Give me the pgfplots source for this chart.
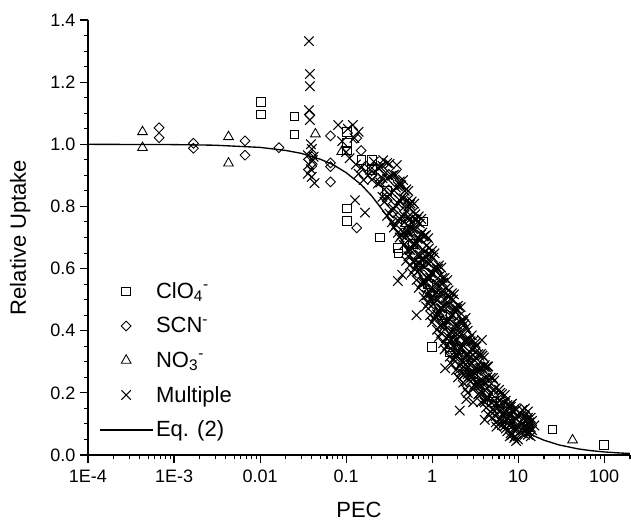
\documentclass[border=0pt]{standalone}
\usepackage{fontspec}
\setmainfont{Liberation Sans}
\usepackage{pgfplots}
\pgfplotsset{compat=1.18}
\newcommand{\ionlab}[2]{#1\textsubscript{#2}\textsuperscript{-}}
\begin{document}
\begin{tikzpicture}
\begin{axis}[
  scale only axis, width=406.5pt, height=326.25pt,
  xmode=log, xmin=1e-4, xmax=200, ymin=0, ymax=1.4,
  axis lines=left, axis line style={-, line width=0.9pt, black},
  tick align=outside, major tick length=6pt, minor tick length=3.3pt,
  every tick/.style={line width=0.8pt, black},
  xtick={1e-4,1e-3,0.01,0.1,1,10,100},
  xticklabels={1E-4,1E-3,0.01,0.1,1,10,100},
  minor xtick={2e-4,3e-4,4e-4,5e-4,6e-4,7e-4,8e-4,9e-4,
    2e-3,3e-3,4e-3,5e-3,6e-3,7e-3,8e-3,9e-3,
    0.02,0.03,0.04,0.05,0.06,0.07,0.08,0.09,
    0.2,0.3,0.4,0.5,0.6,0.7,0.8,0.9,
    2,3,4,5,6,7,8,9,20,30,40,50,60,70,80,90,200},
  ytick={0,0.2,0.4,0.6,0.8,1.0,1.2,1.4},
  yticklabels={0.0,0.2,0.4,0.6,0.8,1.0,1.2,1.4},
  minor y tick num=3,
  ticklabel style={font=\fontsize{13.5}{15}\selectfont},
  yticklabel shift=0pt, xticklabel shift=2pt,
  label style={font=\fontsize{16.5}{19}\selectfont},
  xlabel={PEC}, ylabel={Relative Uptake},
  ylabel style={yshift=8pt}, xlabel style={yshift=-7.5pt},
  legend cell align=left,
  legend style={draw=none, fill=none, at={(rel axis cs:0,0.024)}, anchor=south west, xshift=5pt,
    font=\fontsize{16.5}{19}\selectfont, row sep=8.75pt},
  legend image code/.code={\draw[mark repeat=2,mark phase=2,#1] plot coordinates {(0cm,0cm) (0.7cm,0cm) (1.4cm,0cm)};},
  after end axis/.code={\coordinate (LL) at (rel axis cs:0,0); \coordinate (UR) at (rel axis cs:1,1);},
]
% ClO4-
\addplot[only marks, mark=square, mark size=3.2pt, line width=0.65pt, black] coordinates {
(0.0102,1.137)(0.0102,1.096)(0.025,1.089)(0.025,1.032)(0.102,1.04)(0.102,1.004)(0.102,0.98)
(0.102,0.794)(0.102,0.754)(0.20,0.949)(0.20,0.917)(0.249,0.70)(0.40,0.666)(0.406,0.649)
(0.79,0.751)(1.0,0.347)(1.62,0.347)(1.62,0.33)(25,0.083)(100,0.033)
(0.5,0.75)(0.6,0.68)(0.7,0.62)(0.9,0.55)(1.3,0.45)(2,0.34)(3,0.26)(5,0.17)(8,0.10)(13,0.09)
(0.3,0.85)(0.15,0.95)};
\addlegendentry{\ionlab{ClO}{4}}
% SCN-
\addplot[only marks, mark=square, mark size=2.6pt, mark options={rotate=45}, line width=0.65pt, black] coordinates {
(6.7e-4,1.053)(6.7e-4,1.021)(1.68e-3,1.003)(1.68e-3,0.987)(6.7e-3,1.011)(6.7e-3,0.965)
(0.0166,0.989)(0.038,1.094)(0.066,1.027)(0.066,0.928)(0.066,0.879)(0.066,0.94)(0.133,1.02)
(0.133,0.731)(0.04,0.93)(0.04,0.96)(0.15,0.98)(0.17,0.93)(0.2,0.90)(0.25,0.88)(0.3,0.82)
(0.35,0.78)(0.55,0.68)(0.8,0.58)(1.2,0.45)(2.1,0.26)(2.3,0.24)(2.5,0.29)(3.5,0.23)(7,0.12)};
\addlegendentry{SCN\textsuperscript{-}}
% NO3-
\addplot[only marks, mark=triangle, mark size=4.2pt, line width=0.65pt, black] coordinates {
(4.3e-4,1.040)(4.3e-4,0.989)(4.3e-3,1.024)(4.3e-3,0.939)(0.044,1.033)(0.089,0.976)
(0.5,0.72)(0.87,0.52)(1.0,0.52)(43,0.048)};
\addlegendentry{\ionlab{NO}{3}}
% Multiple
\addplot[only marks, mark=x, mark size=5pt, line width=0.8pt, black] coordinates {
(0.037,1.332)(0.038,1.226)(0.038,1.187)(0.037,1.110)(0.038,1.078)(0.039,1.00)(0.040,0.985)
(0.036,0.965)(0.041,0.95)(0.037,0.935)(0.039,0.92)(0.036,0.905)(0.040,0.895)(0.043,0.875)(0.042,0.96)
(0.081,1.062)(0.12,1.062)(0.09,1.01)(0.1,0.975)(0.11,0.955)(0.13,0.935)(0.14,0.905)(0.15,0.925)
(0.16,0.885)(0.125,1.02)(0.14,1.04)(0.105,1.05)(0.166,0.78)(0.127,0.82)(0.39,0.933)(0.42,0.88)
(0.27,0.949)(0.46,0.885)(0.40,0.56)(0.45,0.58)(0.66,0.45)
(1.42,0.279)(2.1,0.143)(4.1,0.113)(3.8,0.37)(2.5,0.18)(2.6,0.20)(3.0,0.17)(5.6,0.091)(5.0,0.12)(5.5,0.105)
(0.18,0.90)(0.19,0.918)(0.2,0.886)(0.21,0.944)(0.22,0.912)(0.235,0.874)(0.235,0.924)
(0.25,0.877)(0.25,0.927)(0.265,0.831)(0.265,0.891)(0.265,0.931)(0.28,0.815)(0.28,0.855)(0.28,0.905)
(0.3,0.77)(0.3,0.83)(0.3,0.89)(0.3,0.94)(0.32,0.777)(0.32,0.837)(0.32,0.897)(0.32,0.937)
(0.34,0.749)(0.34,0.789)(0.34,0.844)(0.34,0.899)(0.36,0.732)(0.36,0.792)(0.36,0.852)(0.36,0.902)
(0.38,0.741)(0.38,0.801)(0.38,0.861)(0.38,0.901)(0.40,0.715)(0.40,0.755)(0.40,0.81)(0.40,0.865)
(0.42,0.70)(0.42,0.76)(0.42,0.82)(0.42,0.87)(0.44,0.708)(0.44,0.768)(0.44,0.828)(0.44,0.868)
(0.47,0.676)(0.47,0.716)(0.47,0.771)(0.47,0.826)
(0.50,0.625)(0.50,0.705)(0.50,0.785)(0.50,0.855)(0.53,0.64)(0.53,0.72)(0.53,0.80)(0.53,0.85)
(0.55,0.61)(0.55,0.66)(0.55,0.73)(0.55,0.805)(0.58,0.586)(0.58,0.666)(0.58,0.746)(0.58,0.816)
(0.62,0.599)(0.62,0.679)(0.62,0.759)(0.62,0.809)(0.66,0.563)(0.66,0.613)(0.66,0.683)(0.66,0.758)
(0.70,0.538)(0.70,0.618)(0.70,0.698)(0.70,0.768)(0.75,0.55)(0.75,0.63)(0.75,0.71)(0.75,0.76)
(0.80,0.508)(0.80,0.558)(0.80,0.628)(0.80,0.703)(0.85,0.478)(0.85,0.558)(0.85,0.638)(0.85,0.708)
(0.90,0.488)(0.90,0.568)(0.90,0.648)(0.90,0.698)(0.95,0.45)(0.95,0.50)(0.95,0.57)(0.95,0.645)
(1.0,0.427)(1.0,0.507)(1.0,0.587)(1.0,0.657)(1.07,0.439)(1.07,0.519)(1.07,0.599)(1.07,0.649)
(1.14,0.403)(1.14,0.453)(1.14,0.523)(1.14,0.598)(1.2,0.38)(1.2,0.46)(1.2,0.54)(1.2,0.61)
(1.28,0.393)(1.28,0.473)(1.28,0.553)(1.28,0.603)(1.35,0.36)(1.35,0.41)(1.35,0.48)(1.35,0.555)
(1.4,0.34)(1.4,0.42)(1.4,0.50)(1.4,0.57)(1.5,0.353)(1.5,0.433)(1.5,0.513)(1.5,0.563)
(1.6,0.316)(1.6,0.366)(1.6,0.436)(1.6,0.511)(1.7,0.291)(1.7,0.371)(1.7,0.451)(1.7,0.521)
(1.8,0.307)(1.8,0.387)(1.8,0.467)(1.8,0.517)(1.9,0.273)(1.9,0.323)(1.9,0.393)(1.9,0.468)
(2.0,0.25)(2.0,0.33)(2.0,0.41)(2.0,0.48)(2.15,0.266)(2.15,0.346)(2.15,0.426)(2.15,0.476)
(2.3,0.233)(2.3,0.283)(2.3,0.353)(2.3,0.428)(2.45,0.211)(2.45,0.291)(2.45,0.371)(2.45,0.441)
(2.6,0.26)(2.6,0.32)(2.6,0.37)(2.6,0.40)(2.8,0.236)(2.8,0.266)(2.8,0.316)(2.8,0.366)
(3.0,0.212)(3.0,0.267)(3.0,0.322)(3.0,0.367)(3.2,0.22)(3.2,0.28)(3.2,0.33)(3.2,0.36)
(3.45,0.195)(3.45,0.225)(3.45,0.275)(3.45,0.325)(3.7,0.17)(3.7,0.225)(3.7,0.28)(3.7,0.325)
(4.0,0.174)(4.0,0.234)(4.0,0.284)(4.0,0.314)(4.25,0.152)(4.25,0.182)(4.25,0.232)(4.25,0.282)
(4.5,0.13)(4.5,0.185)(4.5,0.24)(4.5,0.285)
(4.8,0.139)(4.8,0.199)(4.8,0.249)(5.1,0.148)(5.1,0.208)(5.1,0.248)(5.5,0.125)(5.5,0.165)(5.5,0.215)
(6.0,0.10)(6.0,0.16)(6.0,0.21)
(6.5,0.096)(6.5,0.131)(6.5,0.166)(6.5,0.196)(7.0,0.093)(7.0,0.133)(7.0,0.168)(7.0,0.193)
(7.5,0.076)(7.5,0.101)(7.5,0.131)(7.5,0.161)(8.0,0.06)(8.0,0.095)(8.0,0.13)(8.0,0.16)
(8.5,0.065)(8.5,0.105)(8.5,0.14)(8.5,0.165)(9.0,0.055)(9.0,0.08)(9.0,0.11)(9.0,0.14)
(9.5,0.045)(9.5,0.08)(9.5,0.115)(9.5,0.145)(10,0.05)(10,0.09)(10,0.125)
(11,0.07)(11,0.10)(11,0.13)(11.5,0.085)(11.5,0.115)(12,0.065)(12,0.095)(12,0.125)(12,0.15)
(12.5,0.08)(12.5,0.11)(13,0.065)(13,0.09)(13,0.12)(13,0.14)(13.5,0.075)(13.5,0.105)
(14,0.06)(14,0.09)(14,0.12)(14.5,0.08)(14.5,0.11)(15.5,0.095)(11.2,0.145)
(0.52,0.66)(0.52,0.715)(0.52,0.765)(0.52,0.82)(0.6,0.622)(0.6,0.677)(0.6,0.727)(0.6,0.782)
(0.68,0.59)(0.68,0.645)(0.68,0.695)(0.68,0.75)(0.77,0.556)(0.77,0.611)(0.77,0.661)(0.77,0.716)
(0.87,0.515)(0.87,0.57)(0.87,0.62)(0.87,0.675)(0.97,0.48)(0.97,0.535)(0.97,0.585)(0.97,0.64)
(1.1,0.447)(1.1,0.502)(1.1,0.552)(1.1,0.607)(1.24,0.417)(1.24,0.472)(1.24,0.522)(1.24,0.577)
(1.45,0.377)(1.45,0.432)(1.45,0.482)(1.45,0.537)(1.65,0.343)(1.65,0.398)(1.65,0.448)(1.65,0.503)
(1.85,0.315)(1.85,0.37)(1.85,0.42)(1.85,0.475)(2.07,0.288)(2.07,0.343)(2.07,0.393)(2.07,0.448)
(2.38,0.261)(2.38,0.316)(2.38,0.366)(2.38,0.421)(2.7,0.253)(2.7,0.293)(2.7,0.333)(2.7,0.373)
(3.1,0.226)(3.1,0.266)(3.1,0.306)(3.1,0.346)(3.55,0.199)(3.55,0.239)(3.55,0.279)(3.55,0.319)
(4.1,0.169)(4.1,0.209)(4.1,0.249)(4.1,0.289)
(0.48,0.70)(0.48,0.75)(0.48,0.80)(0.48,0.85)(0.56,0.66)(0.56,0.71)(0.56,0.76)(0.56,0.81)
(0.64,0.625)(0.64,0.675)(0.64,0.725)(0.64,0.775)(0.72,0.595)(0.72,0.645)(0.72,0.695)(0.72,0.745)
(0.82,0.555)(0.82,0.605)(0.82,0.655)(0.82,0.705)(0.92,0.515)(0.92,0.565)(0.92,0.615)(0.92,0.665)
(1.03,0.485)(1.03,0.535)(1.03,0.585)(1.03,0.635)(1.17,0.45)(1.17,0.50)(1.17,0.55)(1.17,0.60)
(1.32,0.42)(1.32,0.47)(1.32,0.52)(1.32,0.57)(1.55,0.38)(1.55,0.43)(1.55,0.48)(1.55,0.53)
(1.75,0.35)(1.75,0.40)(1.75,0.45)(1.75,0.50)(1.95,0.32)(1.95,0.37)(1.95,0.42)(1.95,0.47)
(2.22,0.30)(2.22,0.345)(2.22,0.39)(2.22,0.435)(2.5,0.275)(2.5,0.32)(2.5,0.365)(2.5,0.41)
(2.9,0.25)(2.9,0.295)(2.9,0.34)(2.9,0.385)(3.3,0.23)(3.3,0.27)(3.3,0.31)(3.3,0.35)
(3.85,0.20)(3.85,0.24)(3.85,0.28)(3.85,0.32)(4.4,0.18)(4.4,0.215)(4.4,0.25)(4.4,0.285)
(5.3,0.14)(5.3,0.175)(5.3,0.21)(5.3,0.24)(6.2,0.115)(6.2,0.145)(6.2,0.175)(6.2,0.20)
(7.2,0.085)(7.2,0.115)(7.2,0.145)(7.2,0.175)(8.2,0.07)(8.2,0.10)(8.2,0.13)(8.2,0.155)
(9.2,0.06)(9.2,0.09)(9.2,0.12)(9.2,0.15)};
\addlegendentry{Multiple}
% Eq. (2)
\addplot[no marks, line width=1pt, black] coordinates {
(1e-4,0.9999)(1e-3,0.999)(0.003,0.997)(0.01,0.990)(0.02,0.980)(0.03,0.971)(0.05,0.952)
(0.07,0.935)(0.1,0.909)(0.15,0.870)(0.2,0.833)(0.3,0.769)(0.4,0.714)(0.5,0.667)(0.7,0.588)
(1,0.5)(1.5,0.4)(2,0.333)(3,0.25)(4,0.2)(5,0.167)(7,0.125)(10,0.0909)(15,0.0625)(20,0.0476)
(30,0.0323)(50,0.0196)(70,0.0141)(100,0.0099)(150,0.0066)(200,0.005)};
\addlegendentry{Eq. (2)}
\end{axis}
\pgfresetboundingbox
\path ([shift={(-66pt,-49.5pt)}]LL) rectangle ([shift={(0.75pt,15pt)}]UR);
\end{tikzpicture}
\end{document}
